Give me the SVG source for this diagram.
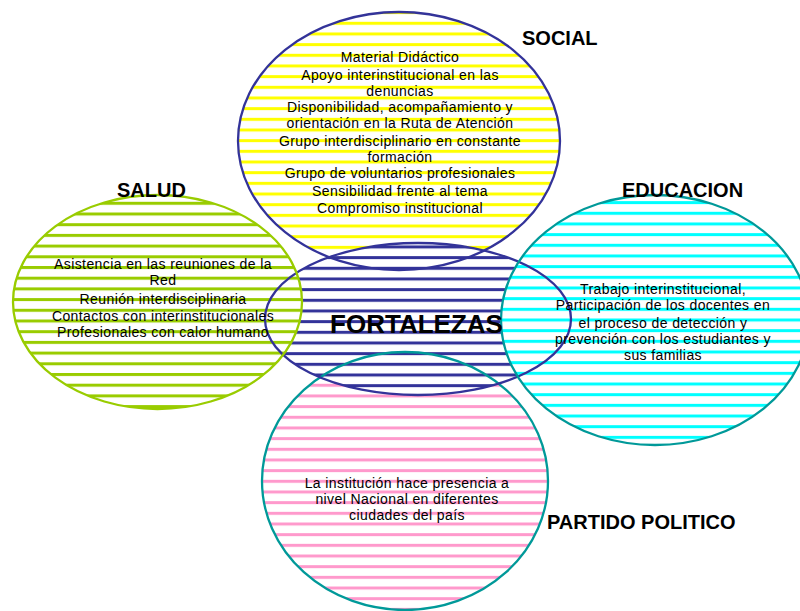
<svg xmlns="http://www.w3.org/2000/svg" width="800" height="611" viewBox="0 0 800 611">
<style>
.o{fill:none;stroke-width:2.3}
.t{font-family:"Liberation Sans",Arial,sans-serif;font-size:14px;letter-spacing:0.4px;fill:#000;text-anchor:middle}
.h{font-family:"Liberation Sans",Arial,sans-serif;font-size:20px;font-weight:bold;fill:#000}
</style>
<defs>
<pattern id="pY" patternUnits="userSpaceOnUse" x="0" y="21.8" width="800" height="10.67"><rect width="800" height="10.67" fill="#fff"/><rect width="800" height="3" fill="#FFFF00"/></pattern>
<pattern id="pG" patternUnits="userSpaceOnUse" x="0" y="201.8" width="800" height="10.7"><rect width="800" height="10.7" fill="#fff"/><rect width="800" height="3" fill="#99CC00"/></pattern>
<pattern id="pC" patternUnits="userSpaceOnUse" x="0" y="211.8" width="800" height="10.67"><rect width="800" height="10.67" fill="#fff"/><rect width="800" height="3" fill="#00FFFF"/></pattern>
<pattern id="pB" patternUnits="userSpaceOnUse" x="0" y="266.8" width="800" height="10.67"><rect width="800" height="10.67" fill="#fff"/><rect width="800" height="3" fill="#333399"/></pattern>
<pattern id="pP" patternUnits="userSpaceOnUse" x="0" y="522.5" width="800" height="10.67"><rect width="800" height="10.67" fill="#fff"/><rect width="800" height="3" fill="#FF99CC"/></pattern>
</defs>
<rect width="800" height="611" fill="#fff"/>
<g id="social"><ellipse cx="399" cy="141" rx="161" ry="129" fill="url(#pY)"/></g>
<g id="partido-politico"><ellipse cx="405" cy="481" rx="143" ry="129" fill="url(#pP)"/></g>
<g id="fortalezas"><ellipse cx="418" cy="319" rx="153" ry="76" fill="url(#pB)"/></g>
<g id="salud"><ellipse cx="157.5" cy="302" rx="144.5" ry="107" fill="url(#pG)"/></g>
<g id="educacion"><ellipse cx="655" cy="320" rx="154" ry="125" fill="url(#pC)"/></g>
<g id="connectors">
<ellipse class="o" cx="399" cy="141" rx="161" ry="129" stroke="#333399"/>
<ellipse class="o" cx="405" cy="481" rx="143" ry="129" stroke="#009999"/>
<ellipse class="o" cx="418" cy="319" rx="153" ry="76" stroke="#333399"/>
<ellipse class="o" cx="157.5" cy="302" rx="144.5" ry="107" stroke="#99CC00"/>
<ellipse class="o" cx="655" cy="320" rx="154" ry="125" stroke="#009999"/>
</g>
<g id="social-text">
<text class="h" x="522" y="45">SOCIAL</text>
<text class="t" x="400" y="62">Material Didáctico</text>
<text class="t" x="400" y="79.5">Apoyo interinstitucional en las</text>
<text class="t" x="400" y="95.5">denuncias</text>
<text class="t" x="400" y="112">Disponibilidad, acompañamiento y</text>
<text class="t" x="400" y="128">orientación en la Ruta de Atención</text>
<text class="t" x="400" y="145.5">Grupo interdisciplinario en constante</text>
<text class="t" x="400" y="161.5">formación</text>
<text class="t" x="400" y="178">Grupo de voluntarios profesionales</text>
<text class="t" x="400" y="196">Sensibilidad frente al tema</text>
<text class="t" x="400" y="213">Compromiso institucional</text>
</g>
<g id="salud-text">
<text class="h" x="117" y="197">SALUD</text>
<text class="t" x="163" y="269">Asistencia en las reuniones de la</text>
<text class="t" x="163" y="285">Red</text>
<text class="t" x="163" y="304">Reunión interdisciplinaria</text>
<text class="t" x="163" y="321">Contactos con interinstitucionales</text>
<text class="t" x="163" y="337">Profesionales con calor humano</text>
</g>
<g id="educacion-text">
<text class="h" x="622" y="197">EDUCACION</text>
<text class="t" x="663" y="293.5">Trabajo interinstitucional,</text>
<text class="t" x="663" y="309.5">Participación de los docentes en</text>
<text class="t" x="663" y="328">el proceso de detección y</text>
<text class="t" x="663" y="344">prevención con los estudiantes y</text>
<text class="t" x="663" y="360">sus familias</text>
</g>
<g id="fortalezas-text">
<text class="h" x="416.5" y="333" style="font-size:26px;text-anchor:middle">FORTALEZAS</text>
</g>
<g id="partido-politico-text">
<text class="h" x="547" y="529">PARTIDO POLITICO</text>
<text class="t" x="407" y="488">La institución hace presencia a</text>
<text class="t" x="407" y="504">nivel Nacional en diferentes</text>
<text class="t" x="407" y="520">ciudades del país</text>
</g>
</svg>
